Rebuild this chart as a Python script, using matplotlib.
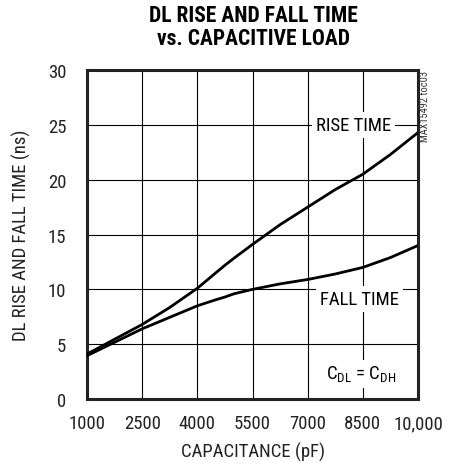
import matplotlib
matplotlib.use('Agg')
import matplotlib.pyplot as plt
import numpy as np

plt.rcParams['font.family'] = ['Roboto Condensed', 'Archivo Narrow', 'PT Sans Narrow',
                               'Barlow Condensed', 'DejaVu Sans']
plt.rcParams['mathtext.fontset'] = 'custom'
plt.rcParams['mathtext.rm'] = 'Roboto Condensed'

# capacitance (pF)
cap = [1000, 2500, 3250, 4000, 4500, 4750, 5000, 5500, 6250, 7000, 7750, 8500, 9250, 10000]
rise = [4.1, 6.8, 8.35, 10.1, 11.5, 12.2, 12.85, 14.1, 15.9, 17.5, 19.1, 20.5, 22.3, 24.3]
fall = [3.95, 6.4, 7.45, 8.5, 9.05, 9.3, 9.6, 10.0, 10.5, 10.9, 11.4, 12.0, 12.9, 14.0]

xticks = [1000, 2500, 4000, 5500, 7000, 8500, 10000]
xticklabels = ['1000', '2500', '4000', '5500', '7000', '8500', '10,000']
yticks = [0, 5, 10, 15, 20, 25, 30]

fig = plt.figure(figsize=(4.56, 4.64), dpi=100)
ax = fig.add_axes([0.1908, 0.1379, 0.7259, 0.709])

ax.plot(cap, rise, color='black', lw=2.0, zorder=3)
ax.plot(cap, fall, color='black', lw=2.0, zorder=3)

ax.set_xlim(1000, 10000)
ax.set_ylim(0, 30)
ax.set_xticks(xticks)
ax.set_xticklabels(xticklabels)
ax.set_yticks(yticks)
ax.tick_params(length=0, labelsize=13.5, colors='#222222')
ax.tick_params(axis='x', pad=11)
ax.tick_params(axis='y', pad=15)
ax.grid(True, color='black', lw=0.8)
ax.set_axisbelow(True)
for s in ax.spines.values():
    s.set_linewidth(2.2)
    s.set_color('#222222')

ax.set_xlabel('CAPACITANCE (pF)', fontsize=13.5, labelpad=7, color='#222222')
ax.set_ylabel('DL RISE AND FALL TIME (ns)', fontsize=13.5, labelpad=12, color='#222222')

box = dict(facecolor='white', edgecolor='none', pad=3)
ax.text(8240, 25, 'RISE TIME', fontsize=13.5, ha='center', va='center', bbox=box, zorder=4)
ax.text(8400, 9.1, 'FALL TIME', fontsize=13.5, ha='center', va='center', bbox=box, zorder=4)
ax.text(8460, 2.3, r'C$_{\rm DL}$ = C$_{\rm DH}$', fontsize=13.5, ha='center', va='center',
        bbox=box, zorder=4)

fig.text(0.555, 0.965, 'DL RISE AND FALL TIME', fontsize=15.5, fontweight='bold',
         ha='center', va='center')
fig.text(0.555, 0.916, 'vs. CAPACITIVE LOAD', fontsize=15.5, fontweight='bold',
         ha='center', va='center')
fig.text(0.932, 0.848, 'MAX15492 toc03', fontsize=7.5, rotation=90, ha='center', va='top',
         color='#333333')

fig.savefig('out.png', dpi=100)
